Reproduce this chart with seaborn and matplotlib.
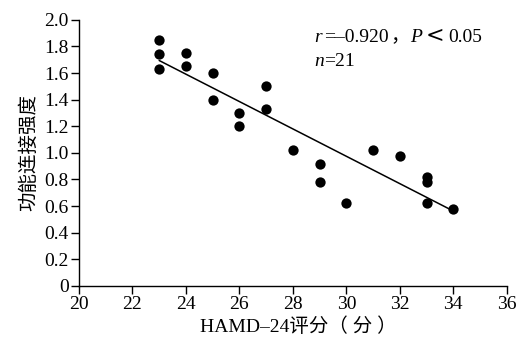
import numpy as np
import pandas as pd
import seaborn as sns
import matplotlib.pyplot as plt

sns.set_theme(style="ticks")
plt.rcParams["font.family"] = ["Liberation Serif", "Noto Sans CJK SC", "DejaVu Sans"]

hamd = [23, 23, 23, 24, 24, 25, 25, 26, 26, 27, 27, 28, 29, 29, 30, 31, 32, 33, 33, 33, 34]
fc = [1.85, 1.74, 1.63, 1.75, 1.65, 1.60, 1.40, 1.30, 1.20, 1.50, 1.33, 1.02,
      0.92, 0.78, 0.62, 1.02, 0.98, 0.82, 0.78, 0.62, 0.58]
xticks = [20, 22, 24, 26, 28, 30, 32, 34, 36]
yticks = [0, 0.2, 0.4, 0.6, 0.8, 1.0, 1.2, 1.4, 1.6, 1.8, 2.0]
ytick_labels = ["0", "0.2", "0.4", "0.6", "0.8", "1.0", "1.2", "1.4", "1.6", "1.8", "2.0"]

df = pd.DataFrame({"HAMD": hamd, "FC": fc})

fig = plt.figure(figsize=(5.23, 3.42), dpi=100)
ax = fig.add_axes([0.151, 0.164, 0.818, 0.778])
sns.regplot(data=df, x="HAMD", y="FC", ci=None, ax=ax,
            scatter_kws=dict(s=55, color="black", linewidths=0, alpha=1),
            line_kws=dict(color="black", lw=1.1))

ax.set_xlim(20, 36)
ax.set_ylim(0, 2.0)
ax.set_xticks(xticks)
ax.set_xticklabels([str(t) for t in xticks])
ax.set_yticks(yticks)
ax.set_yticklabels(ytick_labels)
for s in ["top", "right"]:
    ax.spines[s].set_visible(False)
for s in ["left", "bottom"]:
    ax.spines[s].set_color("black")
    ax.spines[s].set_linewidth(1.0)
ax.tick_params(direction="out", length=6, width=1, color="black",
               labelsize=14, labelcolor="black", pad=1.5)
ax.set_xlabel("HAMD–24评分（ 分 ）", fontsize=14, color="black")
ax.xaxis.set_label_coords(0.512, -0.118)
ax.set_ylabel("功能连接强度", fontsize=14, color="black",
              family=["Noto Sans CJK SC"])
ax.yaxis.set_label_coords(-0.092, 0.50)

# annotation with italic pieces
serif = ["Liberation Serif", "Noto Sans CJK SC"]
line1 = [("r", "italic", serif, 314, 14), ("=–0.920", "normal", serif, 324, 14),
         ("，", "normal", serif, 390, 14), ("P", "italic", serif, 410, 14),
         ("<", "normal", ["DejaVu Serif"], 426, 16), ("0.05", "normal", serif, 448, 14)]
line2 = [("n", "italic", serif, 314, 14), ("=21", "normal", serif, 324, 14)]
for pieces, y_px in [(line1, 42), (line2, 66)]:
    for txt, style, fam, x_px, fs in pieces:
        fig.text(x_px / 523, 1 - y_px / 342, txt, fontsize=fs, style=style,
                 color="black", va="baseline", ha="left", family=fam)

fig.savefig("out.png", dpi=100)
